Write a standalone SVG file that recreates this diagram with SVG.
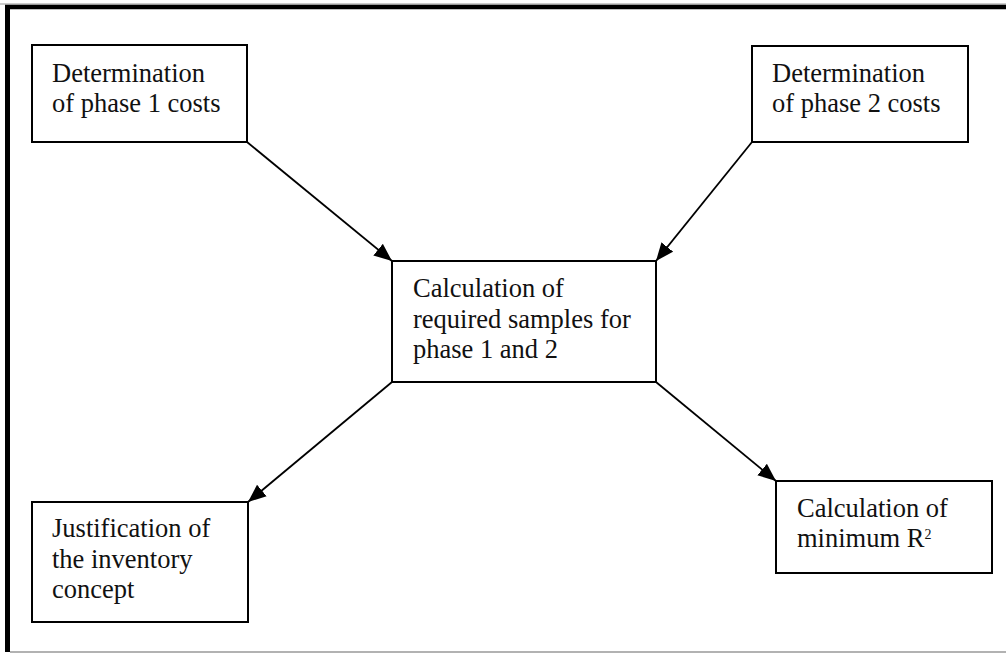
<svg xmlns="http://www.w3.org/2000/svg" width="1006" height="653" viewBox="0 0 1006 653">
  <style>
    .box { fill: #fff; stroke: #000; stroke-width: 2; }
    .lbl { font-family: "Liberation Serif", "Times New Roman", serif; font-size: 26.5px; fill: #111; }
    .conn { stroke: #000; stroke-width: 1.8; fill: none; marker-end: url(#arrow); }
  </style>
  <defs>
    <marker id="arrow" markerUnits="userSpaceOnUse" markerWidth="20" markerHeight="16" viewBox="0 0 20 16" refX="18" refY="8" orient="auto">
      <path d="M0,0.5 L18,8 L0,15.5 Z" fill="#000"/>
    </marker>
  </defs>
  <rect x="0" y="0" width="1006" height="653" fill="#fff"/>
  <g id="frame">
    <line x1="0" y1="4" x2="1006" y2="4" stroke="#999" stroke-width="1"/>
    <line x1="5" y1="7" x2="1006" y2="7" stroke="#000" stroke-width="4.5"/>
    <line x1="7.5" y1="5" x2="7.5" y2="652" stroke="#000" stroke-width="5"/>
    <line x1="10" y1="652" x2="1006" y2="652" stroke="#999" stroke-width="1.5"/>
  </g>
  <g id="connectors">
    <line class="conn" x1="247" y1="142" x2="392" y2="261"/>
    <line class="conn" x1="752" y1="142" x2="656" y2="261"/>
    <line class="conn" x1="392" y1="382" x2="248" y2="502"/>
    <line class="conn" x1="656" y1="382" x2="776" y2="481"/>
  </g>
  <g id="n1">
    <rect class="box" x="32" y="45" width="215" height="97"/>
    <text class="lbl" x="52" y="82">Determination</text>
    <text class="lbl" x="52" y="112">of phase 1 costs</text>
  </g>
  <g id="n2">
    <rect class="box" x="752" y="46" width="216" height="96"/>
    <text class="lbl" x="772" y="82">Determination</text>
    <text class="lbl" x="772" y="112">of phase 2 costs</text>
  </g>
  <g id="n3">
    <rect class="box" x="392" y="261" width="264" height="121"/>
    <text class="lbl" x="413" y="297">Calculation of</text>
    <text class="lbl" x="413" y="328">required samples for</text>
    <text class="lbl" x="413" y="358">phase 1 and 2</text>
  </g>
  <g id="n4">
    <rect class="box" x="32" y="502" width="216" height="120"/>
    <text class="lbl" x="52" y="537">Justification of</text>
    <text class="lbl" x="52" y="568">the inventory</text>
    <text class="lbl" x="52" y="598">concept</text>
  </g>
  <g id="n5">
    <rect class="box" x="776" y="481" width="216" height="92"/>
    <text class="lbl" x="797" y="517">Calculation of</text>
    <text class="lbl" x="797" y="547">minimum R<tspan font-size="14" dy="-8">2</tspan></text>
  </g>
</svg>
